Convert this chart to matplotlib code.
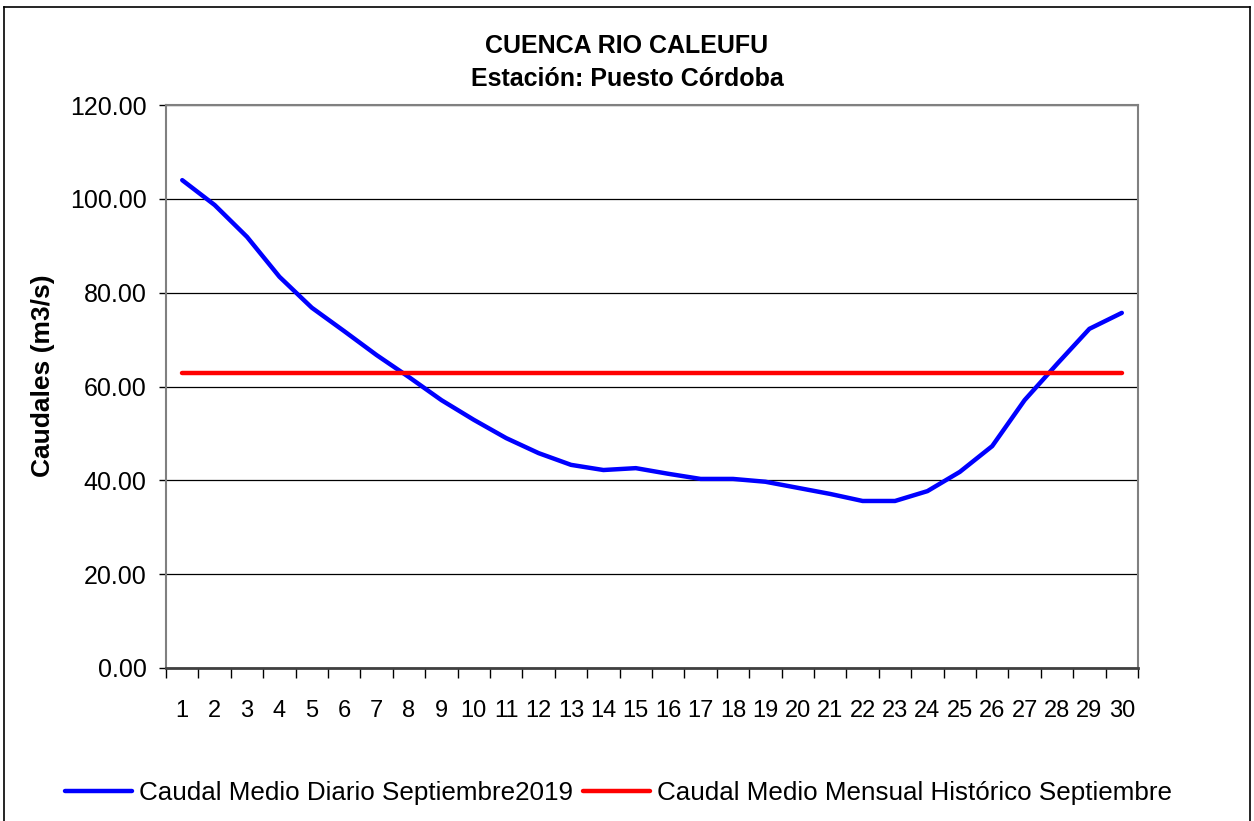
import matplotlib
matplotlib.use("Agg")
import matplotlib.pyplot as plt
from matplotlib.lines import Line2D

plt.rcParams['font.family'] = ['Liberation Sans', 'DejaVu Sans']

# datos
dias = list(range(1, 31))
caudal_diario = [104.0, 98.7, 91.9, 83.4, 76.8, 71.8, 66.7, 62.0, 57.1, 52.9,
                 49.0, 45.8, 43.3, 42.2, 42.6, 41.4, 40.3, 40.3, 39.7, 38.4,
                 37.1, 35.6, 35.6, 37.7, 41.8, 47.3, 57.1, 64.8, 72.3, 75.7]
caudal_historico = [62.8] * 30
yticks = [0, 20, 40, 60, 80, 100, 120]

fig = plt.figure(figsize=(12.54, 8.21), dpi=100)
ax = fig.add_axes([0.1324, 0.1864, 0.7751, 0.6856])

ax.plot(dias, caudal_diario, color="#0000FF", lw=3.2, solid_capstyle="round",
        label="Caudal Medio Diario Septiembre2019", zorder=3)
ax.plot(dias, caudal_historico, color="#FF0000", lw=3.2, solid_capstyle="round",
        label="Caudal Medio Mensual Histórico Septiembre", zorder=3)

ax.set_xlim(0.5, 30.5)
ax.set_ylim(0, 120)
ax.set_yticks(yticks)
ax.set_yticklabels([f"{v:.2f}" for v in yticks], fontsize=18)
ax.set_xticks(dias)
ax.set_xticklabels([str(d) for d in dias], fontsize=17)
ax.set_xticks([d + 0.5 for d in range(0, 31)], minor=True)
ax.tick_params(axis="x", which="major", length=0, pad=23)
ax.tick_params(axis="x", which="minor", length=7, width=1, direction="out")
ax.tick_params(axis="y", length=5, width=1, direction="out", pad=9)
ax.yaxis.grid(True, color="black", lw=0.9)
ax.set_axisbelow(True)

for s in ["top", "right", "left"]:
    ax.spines[s].set_color("#808080")
    ax.spines[s].set_linewidth(1.5)
ax.spines["bottom"].set_color("#404040")
ax.spines["bottom"].set_linewidth(2)

ax.set_ylabel("Caudales (m3/s)", fontsize=19, fontweight="bold")
ax.yaxis.set_label_coords(-0.114, 0.52)
fig.text(0.5, 0.944, "CUENCA RIO CALEUFU", ha="center", va="center", fontsize=18, fontweight="bold")
fig.text(0.5, 0.904, "Estación: Puesto Córdoba", ha="center", va="center", fontsize=18, fontweight="bold")

fig.legend(loc="center", bbox_to_anchor=(0.493, 0.034), ncol=2, frameon=False,
           fontsize=18.7, handlelength=2.6, columnspacing=0.4, handletextpad=0.25)

# marco de la figura
fig.add_artist(Line2D([0.003, 0.003], [0, 0.991], transform=fig.transFigure, color="black", lw=1.2))
fig.add_artist(Line2D([0.003, 0.997], [0.991, 0.991], transform=fig.transFigure, color="black", lw=1.2))
fig.add_artist(Line2D([0.997, 0.997], [0, 0.991], transform=fig.transFigure, color="black", lw=1.2))

fig.savefig("out.png", dpi=100)
